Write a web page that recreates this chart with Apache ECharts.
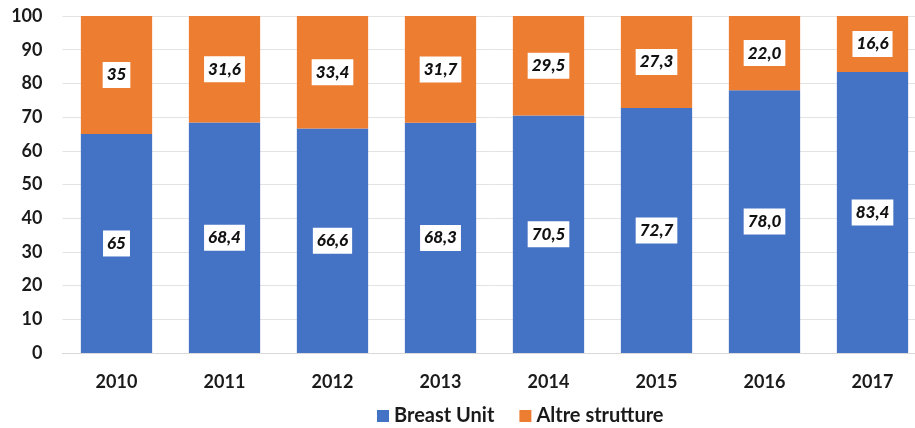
<!DOCTYPE html>
<html><head><meta charset="utf-8">
<script src="https://cdn.jsdelivr.net/npm/echarts@6/dist/echarts.min.js"></script>
<style>html,body{margin:0;padding:0;background:#fff}#c{width:915px;height:428px}</style>
</head><body><div id="c"></div>
<script>
var categories = ['2010','2011','2012','2013','2014','2015','2016','2017'];
var breastUnit = [65, 68.4, 66.6, 68.3, 70.5, 72.7, 78.0, 83.4];
var altre = [35, 31.6, 33.4, 31.7, 29.5, 27.3, 22.0, 16.6];
var breastLabels = ['65','68,4','66,6','68,3','70,5','72,7','78,0','83,4'];
var altreLabels = ['35','31,6','33,4','31,7','29,5','27,3','22,0','16,6'];
var yTicks = [0,10,20,30,40,50,60,70,80,90,100];

var FONT = 'Lato';
var chart = echarts.init(document.getElementById('c'));
function lbl(arr){
  return {show:true, position:'inside', formatter:function(p){return arr[p.dataIndex];},
    backgroundColor:'#fff', color:'#111', fontFamily:FONT, fontWeight:900, fontStyle:'italic',
    fontSize:17, padding:[5,4,4,4]};
}
chart.setOption({
  animation:false,
  grid:{left:62.5, width:864, top:16, bottom:75, containLabel:false, outerBoundsMode:'none'},
  legend:{top:401, left:372, itemWidth:12, itemHeight:12, itemGap:25, icon:'rect',
    textStyle:{fontFamily:FONT, fontWeight:'bold', fontSize:20, color:'#1a1a1a'},
    data:['Breast Unit','Altre strutture']},
  xAxis:{type:'category', data:categories,
    axisLine:{lineStyle:{color:'#d9d9d9'}}, axisTick:{show:false},
    axisLabel:{fontFamily:FONT, fontWeight:'bold', fontSize:18, color:'#1a1a1a', margin:20}},
  yAxis:{type:'value', min:0, max:100, interval:10,
    axisLine:{show:false}, axisTick:{show:false},
    splitLine:{lineStyle:{color:'#e3e3e3'}},
    axisLabel:{fontFamily:FONT, fontWeight:'bold', fontSize:18, color:'#1a1a1a', margin:20,
      formatter:function(v){return yTicks.indexOf(v)>=0?String(v):'';}}},
  series:[
    {name:'Breast Unit', type:'bar', stack:'t', data:breastUnit, barCategoryGap:'34%',
      itemStyle:{color:'#4472C4'}, label:lbl(breastLabels)},
    {name:'Altre strutture', type:'bar', stack:'t', data:altre, barCategoryGap:'34%',
      itemStyle:{color:'#ED7D31'}, label:lbl(altreLabels)}
  ]
});
</script></body></html>
